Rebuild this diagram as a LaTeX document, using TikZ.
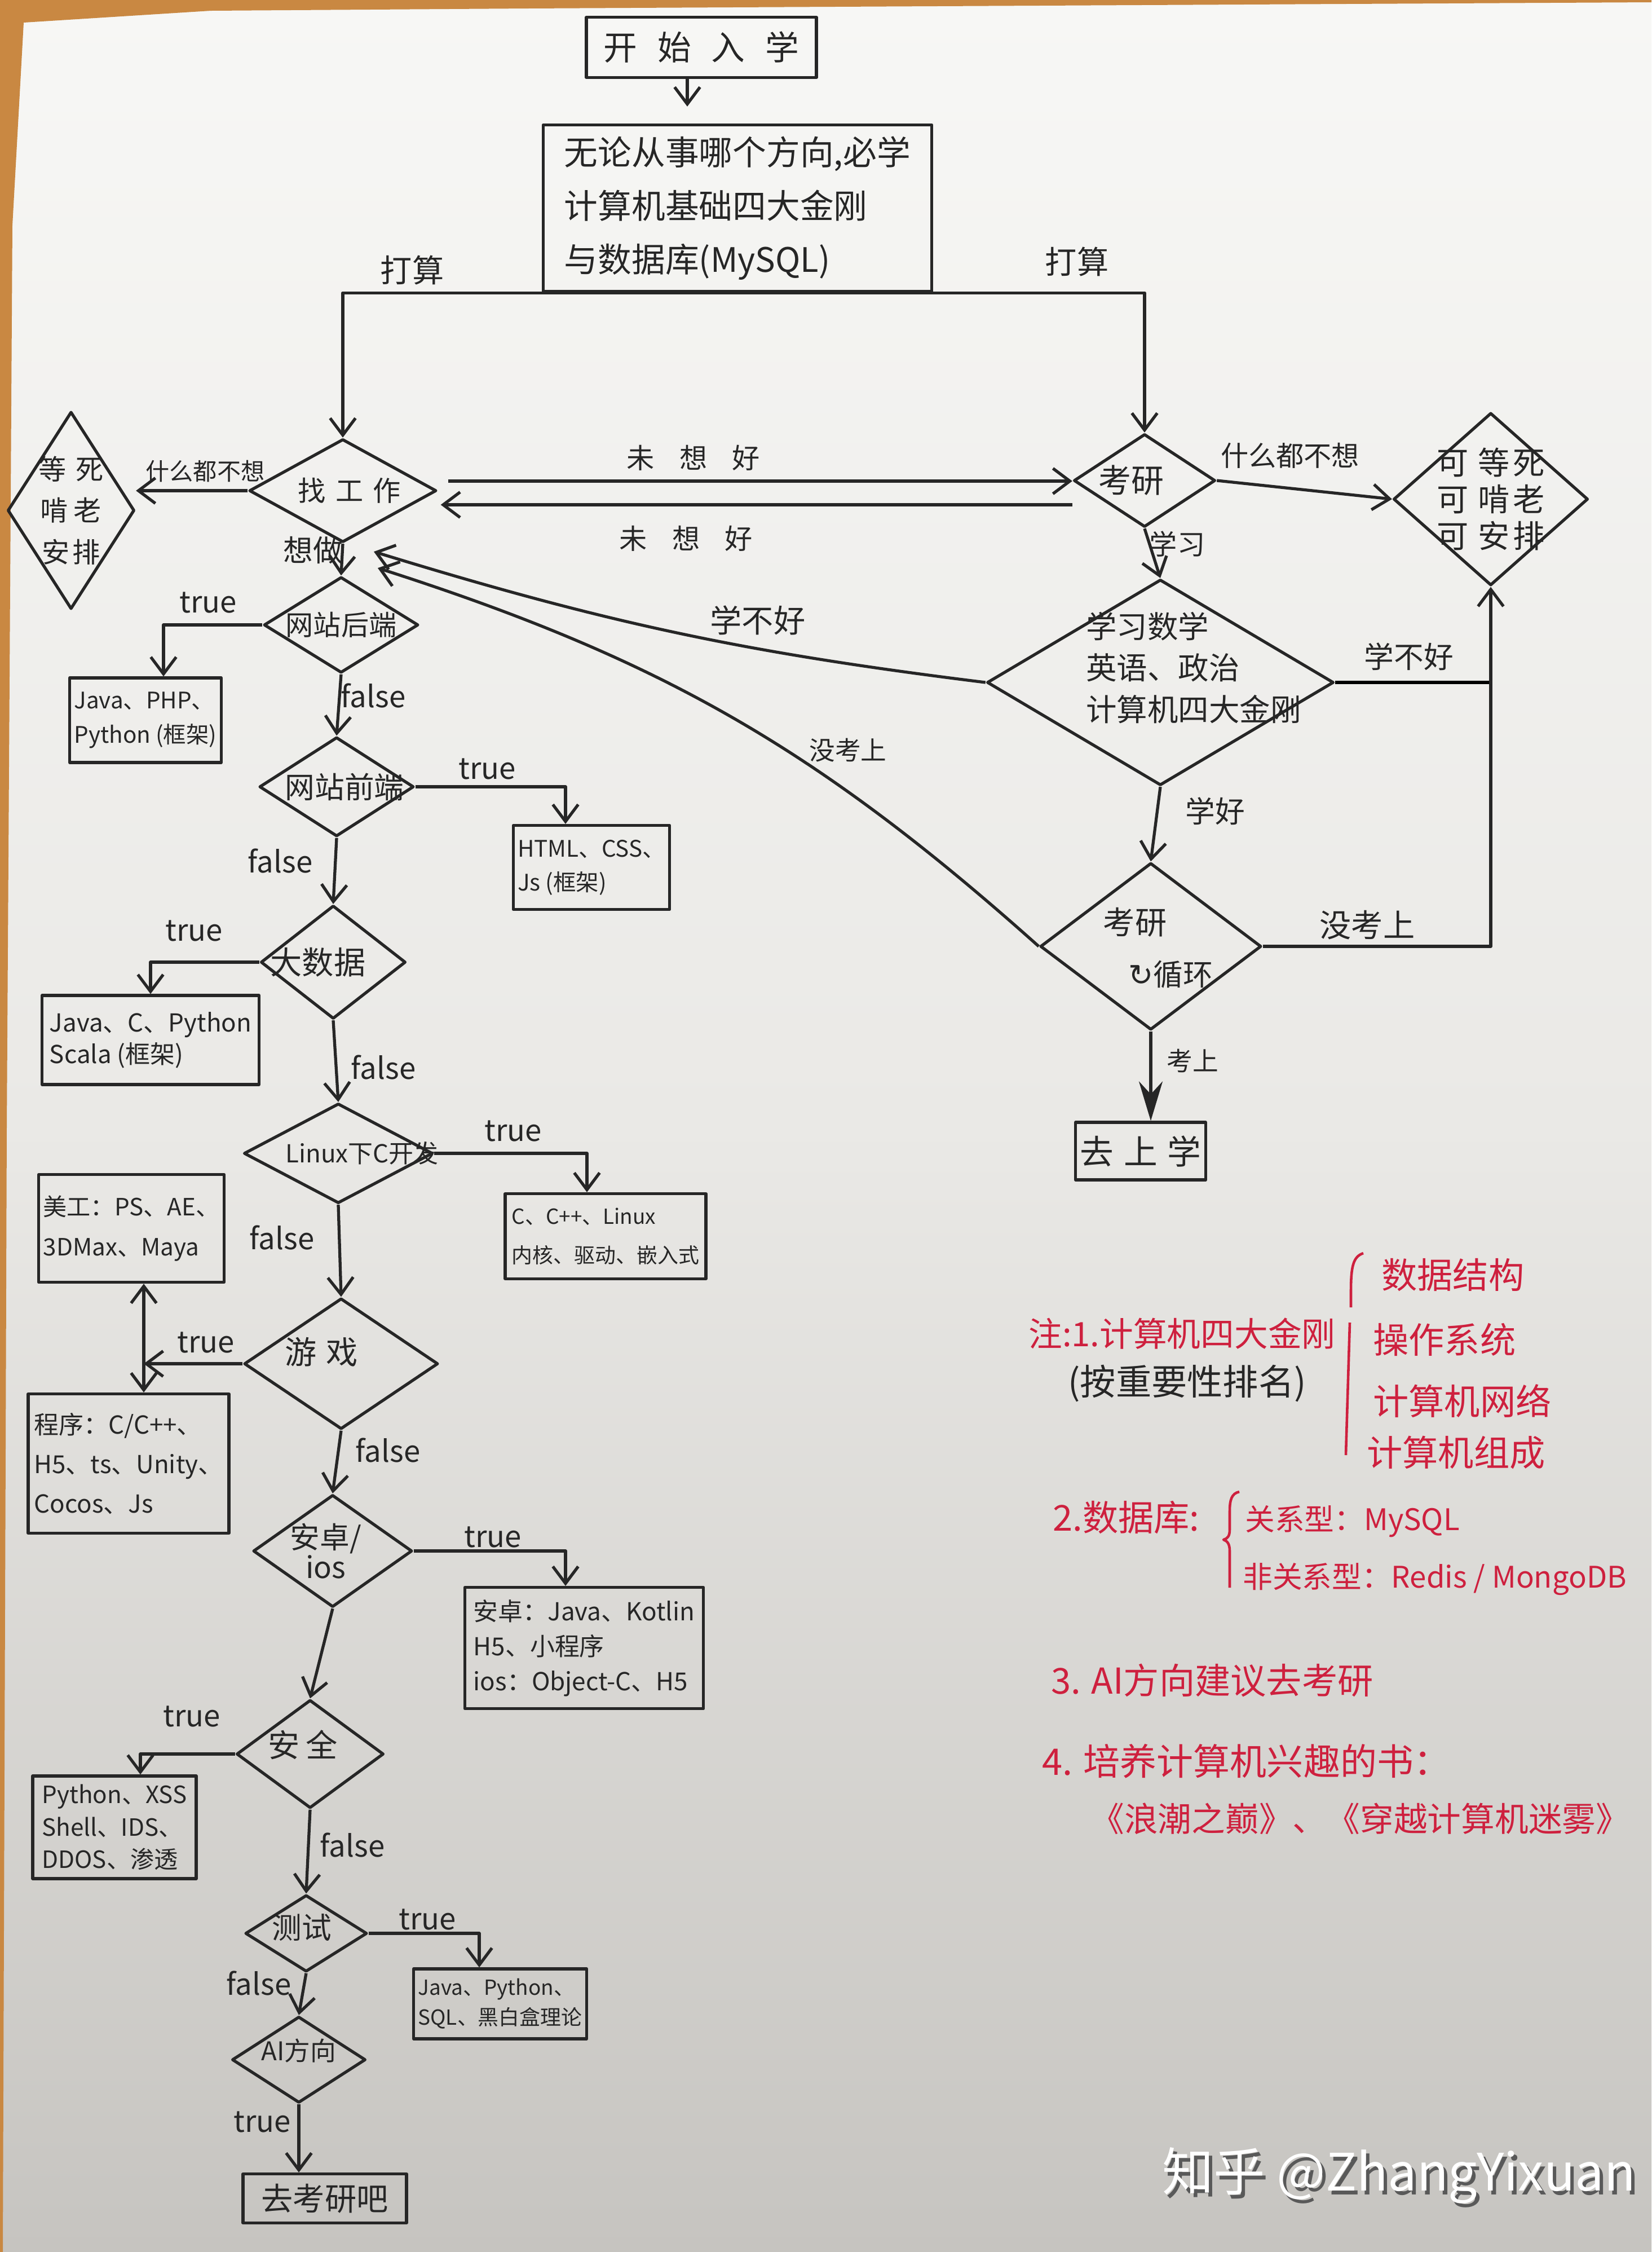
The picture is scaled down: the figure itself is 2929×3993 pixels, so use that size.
\documentclass[tikz,border=0pt]{standalone}
\usepackage{fontspec}
\setmainfont{Noto Sans CJK SC}
\newfontfamily\symfont{DejaVu Sans}
\usepackage{xcolor}
\usepackage{tikz}
\usetikzlibrary{positioning,arrows.meta,shapes.geometric,calc}
\definecolor{ink}{RGB}{38,38,38}
\definecolor{notered}{RGB}{206,32,62}
\definecolor{papertop}{RGB}{247,247,245}
\definecolor{papermid}{RGB}{234,233,230}
\definecolor{paperbot}{RGB}{198,196,192}
\definecolor{wood}{RGB}{201,136,66}
\newcommand\fsz[2]{\fontsize{#1}{#2}\selectfont}

\begin{document}
\begin{tikzpicture}[x=0.1mm, y=-0.1mm, line width=1.5pt, line join=round,
  box/.style={rectangle, draw=ink, text=ink, align=left, inner sep=0.8mm, font=\fsz{12}{17}},
  dec/.style={diamond, draw=ink, inner sep=0pt},
  dtxt/.style={text=ink, align=center, font=\fsz{15}{18}},
  arr/.style={draw=ink, -{Straight Barb[length=3mm,width=4.5mm]}},
  lbl/.style={text=ink, font=\fsz{15}{18}},
  note/.style={text=notered, anchor=west, font=\fsz{17}{20}},
  brk/.style={draw=notered, line width=1.3pt}]
  \useasboundingbox (0,0) rectangle (2929,3993);
  \shade[top color=papertop, bottom color=paperbot, middle color=papermid] (0,0) rectangle (2929,3993);
  \fill[wood] (0,0) -- (2929,0) -- (2929,4) -- (935,15) -- (374,19) -- (42,40) -- (22,400) -- (12,2000) -- (5,3993) -- (0,3993) -- cycle;

  \node[box, minimum width=40.8mm, minimum height=10.7mm, align=center, font=\fsz{17}{20}] (start) at (1244,84) {开\hspace{0.6em}始\hspace{0.6em}入\hspace{0.6em}学};
  \node[box, minimum width=68.9mm, minimum height=29.5mm, font=\fsz{17}{27}] (base) at (1308,369) {无论从事哪个方向,必学\\计算机基础四大金刚\\与数据库(MySQL)};

  \node[dec, minimum width=33.2mm, minimum height=18.3mm, label={[dtxt, font=\fsz{14}{16}, xshift=1.2mm]center:找\hspace{0.35em}工\hspace{0.35em}作}] (zhao) at (608,870) {};
  \node[dec, minimum width=22.5mm, minimum height=35mm, label={[dtxt, font=\fsz{14}{21}]center:等\hspace{0.35em}死\\啃\hspace{0.2em}老\\安\hspace{0.1em}排}] (dengsi) at (126,905) {};
  \node[dec, minimum width=25.1mm, minimum height=16.5mm, label={[dtxt, font=\fsz{16.5}{19}, xshift=-2.4mm]center:考研}] (kaoyan) at (2030,852) {};
  \node[dec, minimum width=34.5mm, minimum height=30.6mm, label={[dtxt, font=\fsz{16}{18.5}]center:可\hspace{0.3em}等\hspace{0.1em}死\\可\hspace{0.3em}啃\hspace{0.1em}老\\可\hspace{0.3em}安\hspace{0.1em}排}] (kedengsi) at (2644,885) {};
  \node[dec, minimum width=61.5mm, minimum height=36.5mm, label={[dtxt, align=left, font=\fsz{15.5}{21}, xshift=5.9mm, yshift=2.6mm]center:学习数学\\英语、政治\\计算机四大金刚}] (xuexi) at (2058,1210) {};
  \node[dec, minimum width=39.2mm, minimum height=29.6mm,
    label={[dtxt, font=\fsz{16}{19}, xshift=-2.8mm, yshift=4.3mm]center:考研},
    label={[dtxt, xshift=3.5mm, yshift=-5mm]center:{{\symfont ↻}循环}}] (kaoyan2) at (2041,1678) {};
  \node[box, minimum width=22.3mm, minimum height=10.2mm, align=center, font=\fsz{17}{20}] (qushang) at (2023,2041) {去\hspace{0.3em}上\hspace{0.3em}学};

  \node[dec, minimum width=27.4mm, minimum height=17mm, label={[dtxt, font=\fsz{14}{16}]center:网站后端}] (houduan) at (605,1108) {};
  \node[box, minimum width=26.1mm, minimum height=15mm, font=\fsz{11.5}{17.5}] (bhouduan) at (258,1277) {Java、PHP、\\Python (框架)};
  \node[dec, minimum width=27.4mm, minimum height=17.6mm, label={[dtxt, font=\fsz{15}{17}, xshift=1.4mm]center:网站前端}] (qianduan) at (597,1395) {};
  \node[box, minimum width=27.4mm, minimum height=14.9mm, font=\fsz{11.5}{17}] (bqianduan) at (1049,1538) {HTML、CSS、\\Js (框架)};
  \node[dec, minimum width=25.7mm, minimum height=20.1mm, label={[dtxt, font=\fsz{16}{18}, xshift=-2.7mm]center:大数据}] (dashuju) at (591,1706) {};
  \node[box, minimum width=38.5mm, minimum height=15.8mm, font=\fsz{12.5}{16}] (bdashuju) at (267,1844) {Java、C、Python\\Scala (框架)};
  \node[dec, minimum width=33.5mm, minimum height=17.7mm, label={[dtxt, font=\fsz{12.5}{15}, xshift=4.2mm]center:Linux下C开发}] (linux) at (600,2045) {};
  \node[box, minimum width=35.6mm, minimum height=15.1mm, font=\fsz{10.5}{19.5}] (blinux) at (1074,2192) {C、C++、Linux\\内核、驱动、嵌入式};
  \node[dec, minimum width=34.4mm, minimum height=23.2mm, label={[dtxt, font=\fsz{16}{18}, xshift=-3.5mm, yshift=2.1mm]center:游\hspace{0.3em}戏}] (youxi) at (605,2418) {};
  \node[box, minimum width=32.6mm, minimum height=19.1mm, font=\fsz{12}{20}] (bmeigong) at (233,2178) {美工：PS、AE、\\3DMax、Maya};
  \node[box, minimum width=35.6mm, minimum height=24.7mm, font=\fsz{12.5}{20}] (bchengxu) at (228,2595) {程序：C/C++、\\H5、ts、Unity、\\Cocos、Js};
  \node[dec, minimum width=28.2mm, minimum height=19.9mm, label={[dtxt, font=\fsz{15}{15}, xshift=-1.2mm]center:安卓/\\ios}] (anzhuo) at (590,2750) {};
  \node[box, minimum width=42.3mm, minimum height=21.5mm, font=\fsz{12.5}{17.6}] (banzhuo) at (1036,2922) {安卓：Java、Kotlin\\H5、小程序\\ios：Object-C、H5};
  \node[dec, minimum width=26.1mm, minimum height=19.2mm, label={[dtxt, font=\fsz{16}{18}, xshift=-1.3mm, yshift=1.6mm]center:安\hspace{0.2em}全}] (anquan) at (550,3110) {};
  \node[box, minimum width=29mm, minimum height=18.2mm, font=\fsz{12}{16.4}] (banquan) at (203,3240) {Python、XSS\\Shell、IDS、\\DDOS、渗透};
  \node[dec, minimum width=21.6mm, minimum height=13.6mm, label={[dtxt, font=\fsz{15}{17}, xshift=-0.8mm, yshift=1.1mm]center:测试}] (ceshi) at (543,3428) {};
  \node[box, minimum width=30.7mm, minimum height=12.4mm, font=\fsz{10.5}{15}] (bceshi) at (887,3553) {Java、Python、\\SQL、黑白盒理论};
  \node[dec, minimum width=23.7mm, minimum height=15.3mm, label={[dtxt, font=\fsz{13}{15}, yshift=1.6mm]center:AI方向}] (ai) at (530,3652) {};
  \node[box, minimum width=29mm, minimum height=8.7mm, align=center, font=\fsz{16}{18}] (bkaoyanba) at (576,3898) {去考研吧};

  \draw[arr] ([xshift=-2.5mm]start.south) -- ([xshift=-2.5mm,yshift=3mm]start.south |- base.north);
  \draw[arr] (base.south) -| (zhao.north);
  \draw[arr] (base.south) -| (kaoyan.north);
  \draw[arr] (zhao.west) -- (zhao.west -| dengsi.east);
  \draw[arr] ([xshift=1.8mm,yshift=1.7mm]zhao.east) -- ([yshift=1.7mm]zhao.east -| kaoyan.west);
  \draw[arr] ([yshift=-4.3mm]kaoyan.west) -- ([xshift=0.5mm,yshift=-4.3mm]kaoyan.west -| zhao.east);
  \draw[arr] (kaoyan.east) -- (kedengsi.west);
  \draw[arr] (kaoyan.south) -- (xuexi.north);
  \draw (xuexi.east) -- (xuexi.east -| kedengsi.south);
  \draw[arr] (kaoyan2.east) -- (kaoyan2.east -| kedengsi.south) -- (kedengsi.south);
  \draw[arr] (xuexi.south) -- (kaoyan2.north);
  \draw[draw=ink, -{Stealth[length=7mm,width=4.2mm]}] (kaoyan2.south) -- (kaoyan2.south |- qushang.north);
  \draw[arr] (xuexi.west) to[bend left=5] ([xshift=5.5mm,yshift=-1.4mm]zhao.south);
  \draw[arr] (kaoyan2.west) to[bend right=12] ([xshift=6.2mm,yshift=-4.3mm]zhao.south);

  \draw[arr] (zhao.south) -- (houduan.north);
  \draw[arr] (houduan.west) -| ([xshift=3.2mm]bhouduan.north);
  \draw[arr] (houduan.south) -- (qianduan.north);
  \draw[arr] (qianduan.east) -| ([xshift=-4.6mm]bqianduan.north);
  \draw[arr] (qianduan.south) -- (dashuju.north);
  \draw[arr] (dashuju.west) -| (bdashuju.north);
  \draw[arr] (dashuju.south) -- (linux.north);
  \draw[arr] (linux.east) -| ([xshift=-3.3mm]blinux.north);
  \draw[arr] (linux.south) -- (youxi.north);
  \coordinate (yj) at ([xshift=2.2mm]youxi.west -| bmeigong.south);
  \draw[arr] (youxi.west) -- (yj);
  \draw[arr] (yj) -- (yj |- bmeigong.south);
  \draw[arr] (yj) -- (yj |- bchengxu.north);
  \draw[arr] (youxi.south) -- (anzhuo.north);
  \draw[arr] (anzhuo.east) -| ([xshift=-3.3mm]banzhuo.north);
  \draw[arr] (anzhuo.south) -- (anquan.north);
  \draw[arr] (anquan.west) -| ([xshift=4.6mm]banquan.north);
  \draw[arr] (anquan.south) -- (ceshi.north);
  \draw[arr] (ceshi.east) -| ([xshift=-3.7mm]bceshi.north);
  \draw[arr] (ceshi.south) -- (ai.north);
  \draw[arr] (ai.south) -- (ai.south |- bkaoyanba.north);

  \node[lbl, font=\fsz{16}{18}] (ds1) at (731,479) {打算};
  \node[lbl, font=\fsz{16}{18}] (ds2) at (1910,464) {打算};
  \node[lbl, font=\fsz{12}{14}] (bx1) at (364,835) {什么都不想};
  \node[lbl, font=\fsz{14}{16}] (bx2) at (2288,808) {什么都不想};
  \node[lbl, font=\fsz{14}{16}] (wx1) at (1230,812) {未\hspace{0.9em}想\hspace{0.9em}好};
  \node[lbl, font=\fsz{14}{16}] (wx2) at (1217,955) {未\hspace{0.9em}想\hspace{0.9em}好};
  \node[lbl, font=\fsz{14}{16}] (xx) at (2088,965) {学习};
  \node[lbl] (bh1) at (2499,1164) {学不好};
  \node[lbl] (xh) at (2155,1438) {学好};
  \node[lbl, font=\fsz{16}{18}] (mk1) at (2425,1640) {没考上};
  \node[lbl, font=\fsz{13}{15}] (ks) at (2115,1881) {考上};
  \node[lbl, font=\fsz{16}{18}] (bh2) at (1344,1100) {学不好};
  \node[lbl, font=\fsz{13}{15}] (mk2) at (1504,1330) {没考上};
  \node[lbl] (xz) at (555,975) {想做};

  \node[lbl] (t1) at (369,1068) {true};
  \node[lbl] (f1) at (662,1233) {false};
  \node[lbl] (t2) at (864,1363) {true};
  \node[lbl] (f2) at (497,1526) {false};
  \node[lbl] (t3) at (344,1650) {true};
  \node[lbl] (f3) at (680,1892) {false};
  \node[lbl] (t4) at (910,2005) {true};
  \node[lbl] (f4) at (500,2194) {false};
  \node[lbl] (t5) at (365,2380) {true};
  \node[lbl] (f5) at (688,2571) {false};
  \node[lbl] (t6) at (874,2725) {true};
  \node[lbl] (t7) at (340,3043) {true};
  \node[lbl] (f7) at (625,3271) {false};
  \node[lbl] (t8) at (758,3403) {true};
  \node[lbl] (f8) at (459,3516) {false};
  \node[lbl] (t9) at (465,3762) {true};

  \node[note] (n1) at (1810,2365) {注:1.计算机四大金刚};
  \node[note, text=ink, font=\fsz{18}{20}] (n1s) at (1880,2453) {(按重要性排名)};
  \node[note, font=\fsz{18}{20}] (n1a) at (2436,2260) {数据结构};
  \node[note, font=\fsz{18}{20}] (n1b) at (2421,2375) {操作系统};
  \node[note, font=\fsz{18}{20}] (n1c) at (2421,2484) {计算机网络};
  \node[note, font=\fsz{18}{20}] (n1d) at (2410,2575) {计算机组成};
  \draw[brk] (2418,2222) .. controls (2400,2228) and (2396,2245) .. (2396,2290) -- (2396,2318);
  \draw[brk] (2394,2345) -- (2387,2580);
  \node[note, font=\fsz{18}{20}] (n2) at (1853,2691) {2.数据库:};
  \draw[brk] (2198,2645) .. controls (2184,2648) and (2181,2660) .. (2181,2680) -- (2181,2712) .. controls (2181,2724) and (2177,2728) .. (2170,2730) .. controls (2177,2732) and (2181,2738) .. (2181,2750) -- (2181,2815);
  \node[note, font=\fsz{15}{18}] (n2a) at (2194,2698) {关系型：MySQL};
  \node[note, font=\fsz{15}{18}] (n2b) at (2190,2800) {非关系型：Redis / MongoDB};
  \node[note, font=\fsz{18}{20}] (n3) at (1850,2979) {3. AI方向建议去考研};
  \node[note, font=\fsz{18.5}{21}] (n4) at (1834,3123) {4. 培养计算机兴趣的书：};
  \node[note] (n4a) at (1920,3225) {《浪潮之巅》、《穿越计算机迷雾》};

  \node[anchor=west, text=black!65, font=\fsz{26}{30}] (wms) at (2053,3864) {知乎 @ZhangYixuan};
  \node[anchor=west, text=white, font=\fsz{26}{30}] (wm) at (2047,3857) {知乎 @ZhangYixuan};
\end{tikzpicture}
\end{document}
